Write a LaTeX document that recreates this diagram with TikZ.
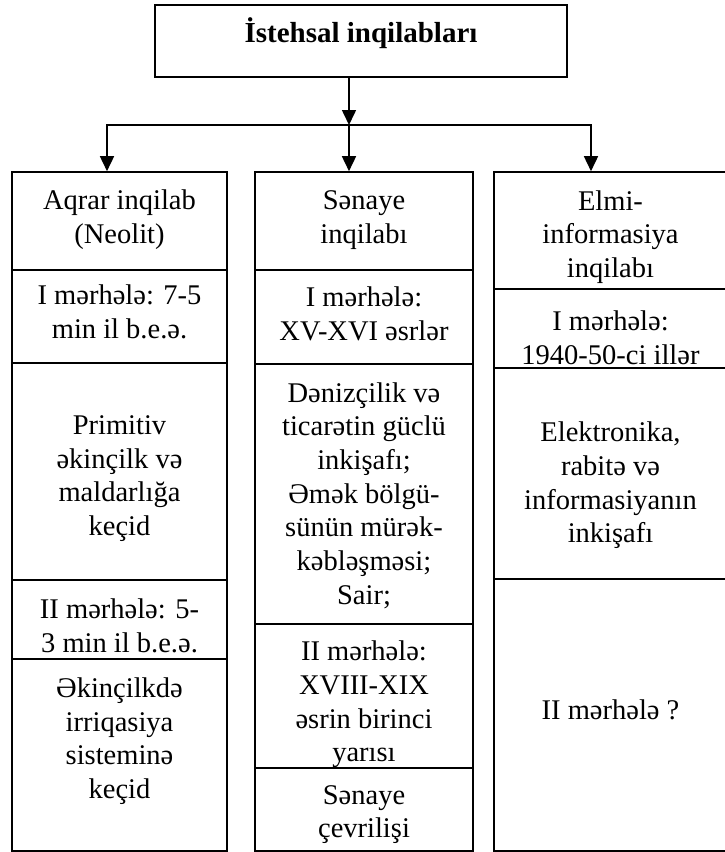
\documentclass[tikz,border=0pt]{standalone}
\usepackage{fontspec}
\setmainfont{Liberation Serif}
\usepackage{tikz}
\usetikzlibrary{arrows.meta}

\begin{document}
\begin{tikzpicture}[x=1pt, y=-1pt,
  cell/.style={shape=rectangle, draw, line width=1.6pt, fill=white, inner sep=0pt},
  every label/.style={align=center, inner sep=0pt, font=\fontsize{28.5}{33.7}\selectfont},
  feed/.style={line width=1.6pt, -{Triangle[length=15pt, width=14pt]}}]
  \useasboundingbox (0, 0) rectangle (725, 852);
  \node (top) at (361, 41) [cell, minimum width=412pt, minimum height=72pt, label={[yshift=7.5pt, font=\fontsize{29}{33.7}\selectfont\bfseries]center:{İstehsal inqilabları}}] {};
  \node (1x1) at (119.5, 221) [cell, minimum width=215pt, minimum height=98pt, label={[yshift=1.5pt]center:{Aqrar inqilab\\(Neolit)}}] {};
  \node (2x1) at (119.5, 316.5) [cell, minimum width=215pt, minimum height=93pt, label={[yshift=5pt]center:{I mərhələ: 7-5\\min il b.e.ə.}}] {};
  \node (3x1) at (119.5, 471.5) [cell, minimum width=215pt, minimum height=217pt, label={[yshift=-7pt]center:{Primitiv\\əkinçilk və\\maldarlığa\\keçid}}] {};
  \node (4x1) at (119.5, 619.5) [cell, minimum width=215pt, minimum height=79pt, label={[yshift=-6pt]center:{II mərhələ: 5-\\3 min il b.e.ə.}}] {};
  \node (5x1) at (119.5, 755) [cell, minimum width=215pt, minimum height=192pt, label={[yshift=14pt]center:{Əkinçilkdə\\irriqasiya\\sisteminə\\keçid}}] {};
  \node (1x2) at (364, 221) [cell, minimum width=218pt, minimum height=98pt, label={[yshift=1pt]center:{Sənaye\\inqilabı}}] {};
  \node (2x2) at (364, 317) [cell, minimum width=218pt, minimum height=94pt, label={[yshift=3pt]center:{I mərhələ:\\XV-XVI əsrlər}}] {};
  \node (3x2) at (364, 494) [cell, minimum width=218pt, minimum height=260pt, label={[yshift=-1.5pt]center:{Dənizçilik və\\ticarətin güclü\\inkişafı;\\Əmək bölgü-\\sünün mürək-\\kəbləşməsi;\\Sair;}}] {};
  \node (4x2) at (364, 696) [cell, minimum width=218pt, minimum height=144pt, label={[yshift=-8.5pt]center:{II mərhələ:\\XVIII-XIX\\əsrin birinci\\yarısı}}] {};
  \node (5x2) at (364, 809.5) [cell, minimum width=218pt, minimum height=83pt, label={[yshift=-5pt]center:{Sənaye\\çevrilişi}}] {};
  \node (1x3) at (610.5, 230.5) [cell, minimum width=233pt, minimum height=117pt, label={[yshift=-6.5pt]center:{Elmi-\\informasiya\\inqilabı}}] {};
  \node (2x3) at (610.5, 328.5) [cell, minimum width=233pt, minimum height=79pt, label={[yshift=-9pt]center:{I mərhələ:\\1940-50-ci illər}}] {};
  \node (3x3) at (610.5, 473.5) [cell, minimum width=233pt, minimum height=211pt, label={[yshift=-12pt]center:{Elektronika,\\rabitə və\\informasiyanın\\inkişafı}}] {};
  \node (4x3) at (610.5, 715) [cell, minimum width=233pt, minimum height=272pt, label={[yshift=5.5pt]center:{II mərhələ ?}}] {};
  \coordinate (hub) at (349, 125);
  \coordinate (left) at (107, 125);
  \coordinate (right) at (591, 125);
  \draw[feed] (top.south -| hub) -- (hub);
  \draw[feed] (hub) -- (left) -- (left |- 1x1.north);
  \draw[feed] (hub) -- (right) -- (right |- 1x3.north);
  \draw[feed] (hub) -- (hub |- 1x2.north);
\end{tikzpicture}
\end{document}
